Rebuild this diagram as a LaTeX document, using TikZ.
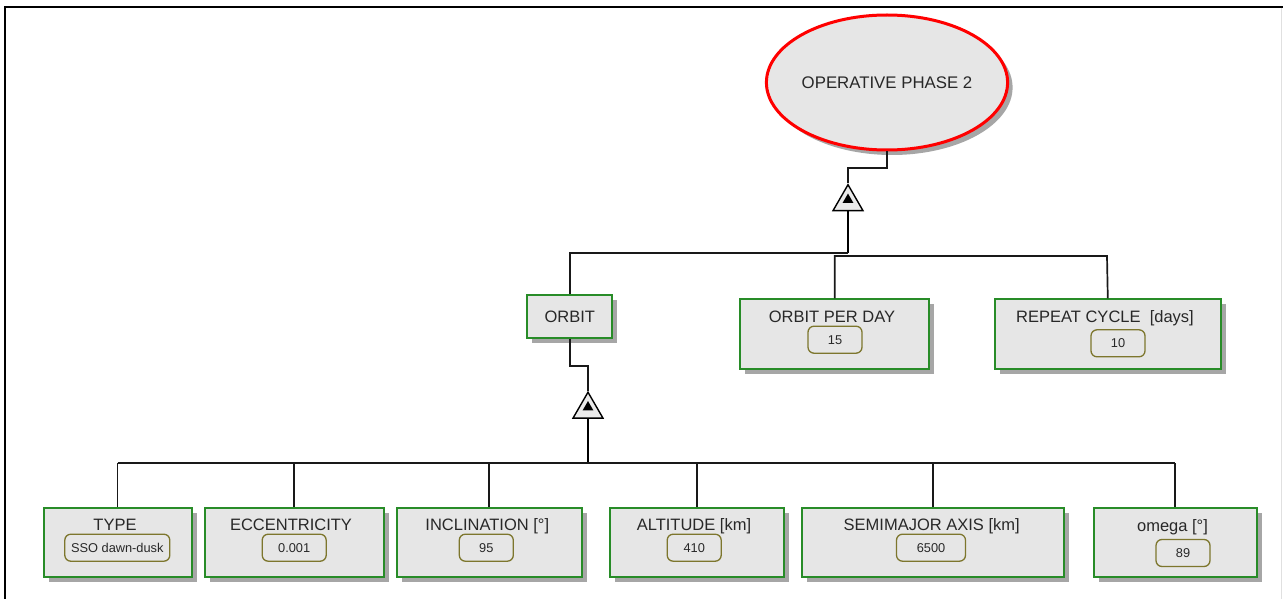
\documentclass[tikz,border=0pt]{standalone}
\usepackage{fontspec}
\setmainfont{Liberation Sans}
\usetikzlibrary{shapes.geometric,shadows}

\definecolor{boxgreen}{RGB}{40,140,40}
\definecolor{valolive}{RGB}{125,118,45}
\definecolor{boxfill}{RGB}{230,230,230}
\definecolor{ink}{RGB}{40,40,40}

\tikzset{
  plainshadow/.style={drop shadow={shadow xshift=5pt, shadow yshift=-5pt, fill=black!35, opacity=1}},
  block/.style={rectangle, draw=boxgreen, line width=2pt, fill=boxfill, inner sep=0pt, plainshadow,
    text=ink, font=\fontsize{16.5}{18}\selectfont, text height=11.8pt, text depth=0pt},
  goal/.style={ellipse, draw=red, line width=3pt, fill=boxfill, inner sep=0pt, plainshadow,
    minimum width=231pt, minimum height=135pt,
    text=ink, font=\fontsize{16.8}{18}\selectfont, text height=12pt, text depth=0pt},
  title/.style={inner sep=0pt, text=ink, font=\fontsize{16.5}{18}\selectfont, text height=11.8pt, text depth=0pt},
  value/.style={rectangle, rounded corners=6pt, draw=valolive, line width=1.3pt, fill=boxfill,
    minimum width=54pt, minimum height=27pt, inner sep=0pt,
    text=ink, font=\fontsize{12.8}{14}\selectfont, text height=9.2pt, text depth=0pt},
  wire/.style={draw=black!90, line width=1.7pt},
  trunk/.style={draw=black, line width=2.8pt},
  gate/.style={regular polygon, regular polygon sides=3, minimum size=34.6pt, inner sep=0pt,
    draw=black, line width=1.4pt, fill=black!8},
  gatein/.style={regular polygon, regular polygon sides=3, minimum size=12.5pt, inner sep=0pt, fill=black},
}

\begin{document}
\begin{tikzpicture}[x=1pt, y=-1pt]
  \useasboundingbox (0,0) rectangle (1283,599);
  \draw[line width=2pt] (5,599) -- (5,7) -- (1283,7);
  \draw[black!12, line width=1.5pt] (1281.5,8) -- (1281.5,599);

  \node[goal] (goal) at (887,82.5) {OPERATIVE PHASE 2};
  \node[gate] (g1) at (848,202) {};
  \node[gatein] (g1in) at (848,199.8) {};

  \node[block, minimum width=85pt, minimum height=43pt] (orbit) at (569.8,316.2) {ORBIT};
  \node[block, minimum width=189pt, minimum height=70pt] (opd) at (834.7,334.3) {};
  \node[title] (opd-t) at (832,316.7) {ORBIT PER DAY};
  \node[value] (opd-v) at (835,339.7) {15};
  \node[block, minimum width=226pt, minimum height=70pt] (rc) at (1107.8,334.3) {};
  \node[title] (rc-t) at (1105,316.7) {REPEAT CYCLE\ \ [days]};
  \node[value] (rc-v) at (1118,343.3) {10};

  \node[gate] (g2) at (588,409.5) {};
  \node[gatein] (g2in) at (588,407.3) {};

  \node[block, minimum width=148pt, minimum height=69pt] (type) at (117.5,542.2) {};
  \node[title] (type-t) at (115,524.7) {TYPE};
  \node[value, minimum width=105pt] (type-v) at (117.3,547.7) {SSO dawn-dusk};
  \node[block, minimum width=179pt, minimum height=69pt] (ecc) at (294.3,542.2) {};
  \node[title] (ecc-t) at (291,524.7) {ECCENTRICITY};
  \node[value, minimum width=64pt] (ecc-v) at (294.2,547.7) {0.001};
  \node[block, minimum width=185pt, minimum height=69pt] (inc) at (489,542.2) {};
  \node[title] (inc-t) at (487.3,524.7) {INCLINATION [°]};
  \node[value] (inc-v) at (486.3,547.7) {95};
  \node[block, minimum width=174pt, minimum height=69pt] (alt) at (697.2,542.2) {};
  \node[title] (alt-t) at (694,524.7) {ALTITUDE [km]};
  \node[value] (alt-v) at (694.2,547.7) {410};
  \node[block, minimum width=262pt, minimum height=69pt] (sma) at (933.3,542.2) {};
  \node[title] (sma-t) at (931.7,524.7) {SEMIMAJOR AXIS [km]};
  \node[value, minimum width=69pt] (sma-v) at (931,547.7) {6500};
  \node[block, minimum width=163pt, minimum height=69pt] (omega) at (1175,542.2) {};
  \node[title] (omega-t) at (1172.5,526) {omega [°]};
  \node[value] (omega-v) at (1183,553) {89};

  \coordinate (hub1) at (848,253);
  \coordinate (hub1b) at (1107,256);
  \coordinate (hub2) at (588,463);

  \draw[wire] (goal.south) -- ++(0,16.7) -| (g1.corner 1);
  \draw[trunk] (g1.south) -- (hub1);
  \draw[wire] (orbit.north) |- (hub1);
  \draw[wire] (opd.north) |- (hub1b) -- (rc.north);

  \draw[wire] (orbit.south) -- ++(0,27.3) -| (g2.corner 1);
  \draw[trunk] (g2.south) -- (hub2);
  \draw[wire] (type.north |- hub2) -- (omega.north |- hub2);
  \foreach \n in {type,ecc,inc,alt,sma,omega}
    \draw[wire] (\n.north) -- (\n.north |- hub2);
\end{tikzpicture}
\end{document}
